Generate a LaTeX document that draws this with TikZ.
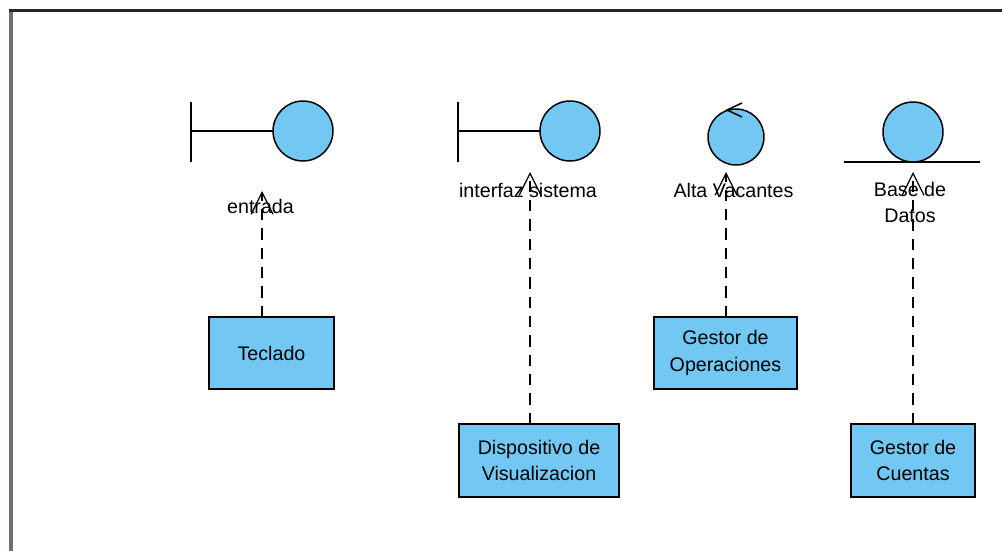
\documentclass[tikz,border=0pt]{standalone}
\usepackage{fontspec}
\setmainfont{Liberation Sans}
\usetikzlibrary{arrows.meta}
\definecolor{boxblue}{HTML}{72C8F2}
\definecolor{framegray}{HTML}{6E716E}
\tikzset{
  boxnode/.style={draw,fill=boxblue,line width=0.85pt,align=center,outer sep=0pt,inner sep=0pt,font=\fontsize{11.2}{15.3}\selectfont},
  circ/.style={draw,circle,fill=boxblue,line width=0.85pt,outer sep=0pt,inner sep=0pt},
  lbl/.style={align=center,inner sep=0pt,font=\fontsize{11.2}{14.8}\selectfont},
  stem/.style={line width=0.85pt},
  dep/.style={line width=0.7pt,dash pattern=on 6.5pt off 4.5pt,-{Straight Barb[length=12.5pt,width=12.5pt,line width=0.7pt]}}
}
\begin{document}
\begin{tikzpicture}[x=0.02cm,y=-0.02cm]
    \useasboundingbox (0,0) rectangle (1002,551);
    \fill[white] (0,0) rectangle (1002,551);
    % window edge
    \draw[framegray,line width=2.2pt] (11,11) -- (11,551);
    \draw[black!85,line width=1.6pt] (9,10.7) -- (1002,10.7);
    % boundary entrada
    \node[circ,minimum size=1.2cm] (circA) at (303,131) {};
    \coordinate (barA) at (191,131);
    \draw[stem] (191,102) -- (191,162);
    \draw[stem] (barA) -- (circA);
    % boundary interfaz
    \node[circ,minimum size=1.2cm] (circB) at (570,131) {};
    \coordinate (barB) at (458,131);
    \draw[stem] (458,102) -- (458,162);
    \draw[stem] (barB) -- (circB);
    % control
    \node[circ,minimum size=1.12cm] (circC) at (736,137) {};
    \draw[stem] (742,103) -- (727,110) -- (742,117);
    % entity
    \node[circ,minimum size=1.2cm] (circD) at (913,132) {};
    \draw[stem] (844,162) -- (980,162);
    % labels
    \node[lbl] (lblA) at (260.5,206) {entrada};
    \node[lbl] (lblB) at (528,190) {interfaz sistema};
    \node[lbl] (lblC) at (733.5,190) {Alta Vacantes};
    \node[lbl] (lblD) at (910,202) {Base de\\Datos};
    % boxes
    \node[boxnode,minimum width=2.5cm,minimum height=1.44cm] (teclado) at (271.5,353) {Teclado};
    \node[boxnode,minimum width=2.86cm,minimum height=1.44cm] (operaciones) at (725.5,353) {Gestor de\\Operaciones};
    \node[boxnode,minimum width=3.2cm,minimum height=1.46cm] (visualizacion) at (539,460.5) {Dispositivo de\\Visualizacion};
    \node[boxnode,minimum width=2.48cm,minimum height=1.46cm] (cuentas) at (913,460.5) {Gestor de\\Cuentas};
    % dependencies
    \coordinate (tipA) at (262,191);
    \coordinate (tipB) at (530,172);
    \coordinate (tipC) at (726,172);
    \coordinate (tipD) at (913,172);
    \draw[dep] (teclado.north -| tipA) -- (tipA);
    \draw[dep] (visualizacion.north -| tipB) -- (tipB);
    \draw[dep] (operaciones.north -| tipC) -- (tipC);
    \draw[dep] (cuentas.north -| tipD) -- (tipD);
\end{tikzpicture}
\end{document}
